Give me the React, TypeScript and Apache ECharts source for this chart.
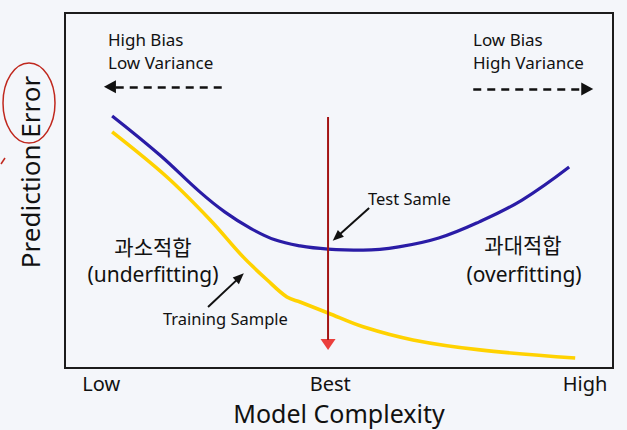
import React, { useEffect, useRef } from "react";
import * as echarts from "echarts";

// Test sample error curve (model complexity 0-100, error 0-100)
const testX = [8.6, 17.3, 24.6, 29.2, 33.8, 38.3, 42.9, 48.0, 54.4, 60.9, 68.2, 75.5, 83.4, 92.0];
const testY = [71.0, 60.0, 49.6, 43.9, 39.4, 36.1, 34.4, 33.5, 33.2, 34.1, 36.6, 41.1, 47.3, 56.6];

// Training sample error curve
const trainX = [8.6, 18.6, 26.5, 32.5, 36.9, 40.5, 42.9, 48.0, 54.4, 63.5, 75.7, 93.1];
const trainY = [66.5, 53.8, 41.7, 31.3, 24.8, 20.0, 18.6, 15.5, 11.6, 7.9, 5.1, 2.8];

// x-axis tick labels
const tickValues = [6.6, 48.4, 94.9];
const tickLabels = ["Low", "Best", "High"];

// best complexity marker
const bestX = 48.0;
const bestTop = 70.7;
const bestBottom = 7.9;
const bestTip = 6.6;

const FONT = "'Noto Sans', 'Noto Sans CJK KR', sans-serif";
const BG = "#f4f6fa";

export default function App() {
  const ref = useRef<HTMLDivElement>(null);

  useEffect(() => {
    if (!ref.current) return;
    const chart = echarts.init(ref.current, undefined, { renderer: "svg" });

    const t = (text: string, x: number, y: number, size: number, align = "left", extra: any = {}) => ({
      type: "text",
      x,
      y,
      silent: true,
      ...extra,
      style: {
        text,
        fontSize: size,
        fontFamily: FONT,
        fill: "#111",
        align,
        verticalAlign: "middle",
      },
    });

    const option: any = {
      animation: false,
      backgroundColor: BG,
      grid: {
        left: 65,
        top: 13,
        width: 548,
        height: 355,
        show: true,
        backgroundColor: BG,
        borderColor: "#1c1c1c",
        borderWidth: 2,
      },
      xAxis: {
        type: "value",
        min: 0,
        max: 100,
        axisLine: { show: false },
        axisTick: { show: false },
        splitLine: { show: false },
        axisLabel: {
          show: true,
          customValues: tickValues,
          margin: 5,
          fontSize: 20,
          fontFamily: FONT,
          color: "#111",
          formatter: (v: number) => {
            let best = 0;
            tickValues.forEach((tv, i) => {
              if (Math.abs(tv - v) < Math.abs(tickValues[best] - v)) best = i;
            });
            return tickLabels[best];
          },
        },
      },
      yAxis: {
        type: "value",
        min: 0,
        max: 100,
        axisLine: { show: false },
        axisTick: { show: false },
        splitLine: { show: false },
        axisLabel: { show: false },
      },
      series: [
        {
          name: "Test Samle",
          type: "line",
          smooth: 0.4,
          symbol: "none",
          silent: true,
          lineStyle: { color: "#2a1ca6", width: 3.2 },
          data: testX.map((x, i) => [x, testY[i]]),
        },
        {
          name: "Training Sample",
          type: "line",
          smooth: 0.35,
          symbol: "none",
          silent: true,
          lineStyle: { color: "#ffd200", width: 3.6 },
          data: trainX.map((x, i) => [x, trainY[i]]),
        },
        {
          name: "best",
          type: "line",
          symbol: "none",
          silent: true,
          lineStyle: { color: "#a31414", width: 2 },
          data: [
            [bestX, bestTop],
            [bestX, bestBottom],
          ],
        },
        {
          name: "bestTip",
          type: "scatter",
          silent: true,
          symbol: "triangle",
          symbolRotate: 180,
          symbolSize: [15, 11],
          itemStyle: { color: "#e8120c" },
          data: [[bestX, bestTip]],
        },
        {
          name: "arrows",
          type: "line",
          data: [],
          silent: true,
          markLine: {
            silent: true,
            symbol: ["none", "triangle"],
            symbolSize: [9, 11],
            label: { show: false },
            lineStyle: { color: "#111", width: 2, type: "solid" },
            emphasis: { disabled: true },
            data: [
              [{ coord: [55.5, 45.1] }, { coord: [49.6, 36.9] }],
              [{ coord: [26.1, 17.2] }, { coord: [31.9, 25.6] }],
            ],
          },
        },
        {
          name: "dashArrows",
          type: "line",
          data: [],
          silent: true,
          markLine: {
            silent: true,
            symbol: ["none", "triangle"],
            symbolSize: [13, 12],
            label: { show: false },
            lineStyle: { color: "#111", width: 2.5, type: [8, 6] },
            emphasis: { disabled: true },
            data: [
              [{ coord: [28.6, 79.2] }, { coord: [8.2, 79.2] }],
              [{ coord: [74.5, 78.6] }, { coord: [95.3, 78.6] }],
            ],
          },
        },
      ],
      graphic: [
        t("High Bias", 108, 39, 17),
        t("Low Variance", 108, 62, 17),
        t("Low Bias", 473, 39, 17),
        t("High Variance", 473, 62, 17),
        t("Test Samle", 368, 198, 16.5),
        t("과소적합", 153, 247, 21, "center"),
        t("(underfitting)", 153, 274, 21, "center"),
        t("Training Sample", 163, 318, 16.5),
        t("과대적합", 523, 245, 21, "center"),
        t("(overfitting)", 524, 274, 21, "center"),
        t("Model Complexity", 339, 413, 25, "center"),
        t("Prediction Error", 30, 172, 26, "center", { rotation: Math.PI / 2 }),
        {
          type: "ellipse",
          silent: true,
          shape: { cx: 29, cy: 103, rx: 26, ry: 40 },
          style: { fill: "none", stroke: "#c0281e", lineWidth: 1.5 },
        },
        {
          type: "line",
          silent: true,
          shape: { x1: 1, y1: 164, x2: 5, y2: 158 },
          style: { stroke: "#c0281e", lineWidth: 1.5 },
        },
      ],
    };

    chart.setOption(option);
    return () => chart.dispose();
  }, []);

  return (
    <div
      ref={ref}
      style={{ position: "absolute", left: 0, top: 0, width: 627, height: 430, background: BG }}
    />
  );
}
